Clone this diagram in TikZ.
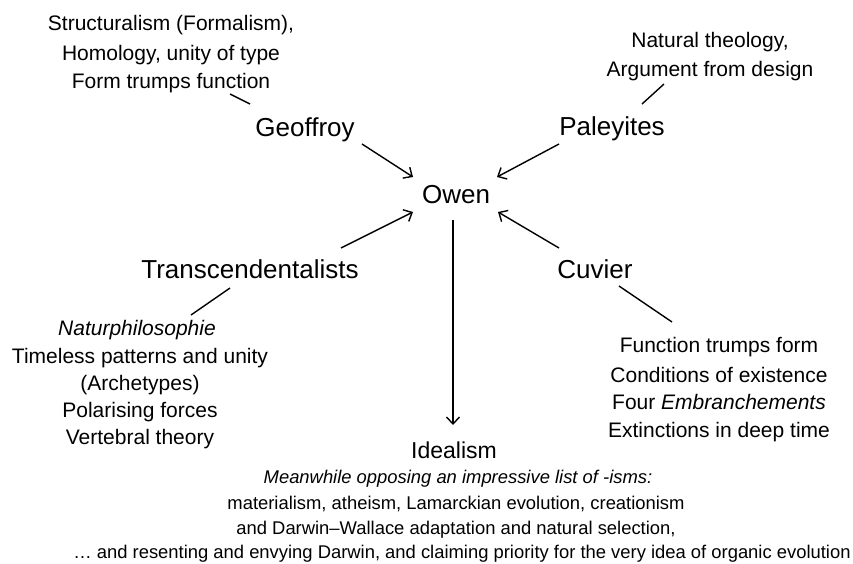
\documentclass[tikz,border=0pt]{standalone}
\usepackage{fontspec}
\setmainfont{Liberation Sans}
\usetikzlibrary{arrows.meta}
\tikzset{
  big/.style={font=\fontsize{26}{30}\selectfont, inner sep=0pt, anchor=base},
  note/.style={font=\fontsize{21}{26}\selectfont, inner sep=0pt, anchor=base},
  small/.style={font=\fontsize{18.4}{22}\selectfont, inner sep=0pt, anchor=base},
  arr/.style={line width=1.4pt, -{Straight Barb[length=7pt,width=13pt,line width=1.4pt]}},
  tie/.style={line width=1.4pt},
}
\begin{document}
\begin{tikzpicture}[x=1pt,y=-1pt]
\useasboundingbox (0,0) rectangle (853,563);
% central
\node[big] (owen) at (456,203) {Owen};
\node[big] (geo) at (305,136) {Geoffroy};
\node[big] (pal) at (612,135) {Paleyites};
\node[big] (trans) at (250,278) {Transcendentalists};
\node[big] (cuv) at (595,278) {Cuvier};
\node[font=\fontsize{23}{26}\selectfont, inner sep=0pt, anchor=base] (ideal) at (454,458) {Idealism};
% Geoffroy notes
\node[note] (g1) at (171,30) {Structuralism (Formalism),};
\node[note] (g2) at (171,60) {Homology, unity of type};
\node[note] (g3) at (171,88) {Form trumps function};
% Paley notes
\node[note] (p1) at (710,47) {Natural theology,};
\node[note] (p2) at (710,76) {Argument from design};
% Transcendentalist notes
\node[note] (t1) at (137,335) {\itshape Naturphilosophie};
\node[note] (t2) at (140,363) {Timeless patterns and unity};
\node[note] (t3) at (140,390) {(Archetypes)};
\node[note] (t4) at (140,417) {Polarising forces};
\node[note] (t5) at (140,444) {Vertebral theory};
% Cuvier notes
\node[note] (c1) at (719,352) {Function trumps form};
\node[note] (c2) at (719,382) {Conditions of existence};
\node[note] (c3) at (719,409) {Four \textit{Embranchements}};
\node[note] (c4) at (719,437) {Extinctions in deep time};
% bottom
\node[small] (b1) at (458,483) {\itshape Meanwhile opposing an impressive list of -isms:};
\node[small] (b2) at (456,509) {materialism, atheism, Lamarckian evolution, creationism};
\node[small] (b3) at (456,534) {and Darwin–Wallace adaptation and natural selection,};
\node[small] (b4) at (462,558) {\dots\ and resenting and envying Darwin, and claiming priority for the very idea of organic evolution};
% arrows
\draw[arr] ([shift={(57,8)}]geo.base) -- ([shift={(-43,-26)}]owen.base);
\draw[arr] ([shift={(-53,9)}]pal.base) -- ([shift={(41,-26)}]owen.base);
\draw[arr] ([shift={(91,-30)}]trans.base) -- ([shift={(-43,9)}]owen.base);
\draw[arr] ([shift={(-36,-30)}]cuv.base) -- ([shift={(42,9)}]owen.base);
\draw[arr] ([shift={(-3,17)}]owen.base) -- ([shift={(-1,-33)}]ideal.base);
% ties
\draw[tie] ([shift={(59,6)}]g3.base) -- ([shift={(-55,-32)}]geo.base);
\draw[tie] ([shift={(-46,8)}]p2.base) -- ([shift={(30,-31)}]pal.base);
\draw[tie] ([shift={(-20,10)}]trans.base) -- ([shift={(54,-20)}]t1.base);
\draw[tie] ([shift={(24,8)}]cuv.base) -- ([shift={(-47,-30)}]c1.base);
\end{tikzpicture}
\end{document}
